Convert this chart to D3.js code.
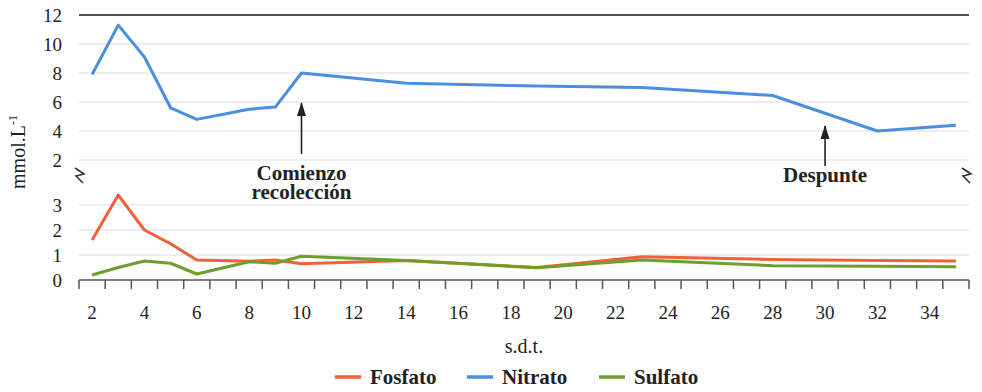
<!DOCTYPE html>
<html>
<head>
<meta charset="utf-8">
<script src="https://cdn.jsdelivr.net/npm/d3@7"></script>
</head>
<body style="margin:0;padding:0;background:#fff">
<svg id="chart" width="982" height="392" style="display:block"></svg>
<script>
// Semanas después del trasplante con muestreo
const weeks = [2, 3, 4, 5, 6, 8, 9, 10, 14, 19, 23, 28, 32, 35];
// Concentraciones (mmol.L-1)
const nitrato = [7.9, 11.3, 9.1, 5.6, 4.8, 5.5, 5.65, 8.0, 7.3, 7.1, 7.0, 6.45, 4.0, 4.4];
const fosfato = [1.6, 3.4, 2.0, 1.45, 0.8, 0.75, 0.8, 0.65, 0.78, 0.5, 0.93, 0.82, 0.78, 0.76];
const sulfato = [0.2, 0.5, 0.76, 0.67, 0.24, 0.73, 0.67, 0.95, 0.78, 0.49, 0.8, 0.57, 0.55, 0.53];

const xLabels = [2, 4, 6, 8, 10, 12, 14, 16, 18, 20, 22, 24, 26, 28, 30, 32, 34];
const topTicks = [2, 4, 6, 8, 10, 12];
const bottomTicks = [0, 1, 2, 3];

const colors = { Fosfato: "#f0603a", Nitrato: "#4a8ee0", Sulfato: "#6f9e2c" };

const FONT = "Liberation Serif";
const INK = "#222";

const svg = d3.select("#chart");

// Every text element gets the serif face inline
function txt(sel) {
  return sel.attr("font-family", FONT).style("font-family", `"${FONT}"`).attr("fill", INK);
}

const x = d3.scaleLinear().domain([1.5, 35.5]).range([79, 969]);
const yTop = d3.scaleLinear().domain([2, 12]).range([160, 15]);
const yBot = d3.scaleLinear().domain([0, 3]).range([280, 205]);

// Gridlines, upper panel (top line at 12 is darker)
svg.append("g").selectAll("line")
  .data(topTicks)
  .join("line")
  .attr("x1", x(1.5)).attr("x2", x(35.5))
  .attr("y1", d => yTop(d)).attr("y2", d => yTop(d))
  .attr("stroke", d => d === 12 ? "#4d5a44" : "#dcdcdc")
  .attr("stroke-width", d => d === 12 ? 2 : 1);

// Gridlines, lower panel
svg.append("g").selectAll("line")
  .data(bottomTicks.filter(d => d > 0))
  .join("line")
  .attr("x1", x(1.5)).attr("x2", x(35.5))
  .attr("y1", d => yBot(d)).attr("y2", d => yBot(d))
  .attr("stroke", "#dcdcdc").attr("stroke-width", 1);

// Y tick labels
txt(svg.append("g").selectAll("text")
  .data(topTicks)
  .join("text")
  .attr("x", 62).attr("y", d => yTop(d))
  .attr("dy", "0.35em").attr("text-anchor", "end")
  .attr("font-size", 19)
  .text(d => d));

txt(svg.append("g").selectAll("text")
  .data(bottomTicks)
  .join("text")
  .attr("x", 62).attr("y", d => yBot(d))
  .attr("dy", "0.35em").attr("text-anchor", "end")
  .attr("font-size", 19)
  .text(d => d));

// X axis baseline and boundary ticks between weeks
const y0 = yBot(0);
const xAxis = svg.append("g");
xAxis.append("line")
  .attr("x1", x(1.5)).attr("x2", x(35.5))
  .attr("y1", y0).attr("y2", y0)
  .attr("stroke", "#555").attr("stroke-width", 1.5);
xAxis.selectAll("line.tick")
  .data(d3.range(1.5, 35.6, 1))
  .join("line")
  .attr("class", "tick")
  .attr("x1", d => x(d)).attr("x2", d => x(d))
  .attr("y1", y0).attr("y2", y0 + 9)
  .attr("stroke", "#555").attr("stroke-width", 1.5);

// Week labels on even weeks
txt(xAxis.selectAll("text")
  .data(xLabels)
  .join("text")
  .attr("x", d => x(d)).attr("y", y0 + 39)
  .attr("text-anchor", "middle")
  .attr("font-size", 19)
  .text(d => d));

// Axis titles
txt(svg.append("text")
  .attr("x", 524).attr("y", 353)
  .attr("text-anchor", "middle").attr("font-size", 20)
  .text("s.d.t."));

const yTitle = txt(svg.append("text")
  .attr("transform", "translate(25,152) rotate(-90)")
  .attr("text-anchor", "middle").attr("font-size", 20));
yTitle.append("tspan").text("mmol.L");
yTitle.append("tspan").attr("dy", -8).attr("font-size", 12).text("-1");

// Axis break marks
const breakPath = "M-5,-7 L4,-1 L-4,1 L3,8";
[[x(1.5) + 1, 175], [x(35.5) - 2, 175]].forEach(([bx, by]) => {
  svg.append("path")
    .attr("d", breakPath)
    .attr("transform", `translate(${bx},${by})`)
    .attr("fill", "none").attr("stroke", "#333").attr("stroke-width", 1.6);
});

// Series
const rows = weeks.map((w, i) => ({ w, Nitrato: nitrato[i], Fosfato: fosfato[i], Sulfato: sulfato[i] }));

function drawLine(name, yScale) {
  const line = d3.line().x(d => x(d.w)).y(d => yScale(d[name]));
  svg.append("path")
    .datum(rows)
    .attr("d", line)
    .attr("fill", "none")
    .attr("stroke", colors[name])
    .attr("stroke-width", 3)
    .attr("stroke-linejoin", "round");
}
drawLine("Fosfato", yBot);
drawLine("Sulfato", yBot);
drawLine("Nitrato", yTop);

// Annotations: arrow with a label underneath
function annotate(week, yFrom, yTo, lines, baseline) {
  const ax = x(week);
  svg.append("line")
    .attr("x1", ax).attr("x2", ax)
    .attr("y1", yFrom).attr("y2", yTo + 1)
    .attr("stroke", INK).attr("stroke-width", 1.6);
  svg.append("path")
    .attr("d", `M${ax},${yTo} L${ax - 4.5},${yTo + 14} L${ax + 4.5},${yTo + 14} Z`)
    .attr("fill", INK);
  lines.forEach((t, i) => {
    txt(svg.append("text")
      .attr("x", ax).attr("y", baseline + i * 19)
      .attr("text-anchor", "middle")
      .attr("font-size", 21).attr("font-weight", "bold")
      .text(t));
  });
}
annotate(10, 154, 102, ["Comienzo", "recolección"], 180);
annotate(30, 166, 125, ["Despunte"], 182);

// Legend
const legendItems = [
  { name: "Fosfato", x: 335 },
  { name: "Nitrato", x: 467 },
  { name: "Sulfato", x: 599 }
];
const legend = svg.append("g");
legendItems.forEach(it => {
  legend.append("line")
    .attr("x1", it.x).attr("x2", it.x + 26)
    .attr("y1", 377).attr("y2", 377)
    .attr("stroke", colors[it.name]).attr("stroke-width", 3.5);
  txt(legend.append("text")
    .attr("x", it.x + 35).attr("y", 384)
    .attr("font-size", 21).attr("font-weight", "bold")
    .text(it.name));
});
</script>
</body>
</html>
